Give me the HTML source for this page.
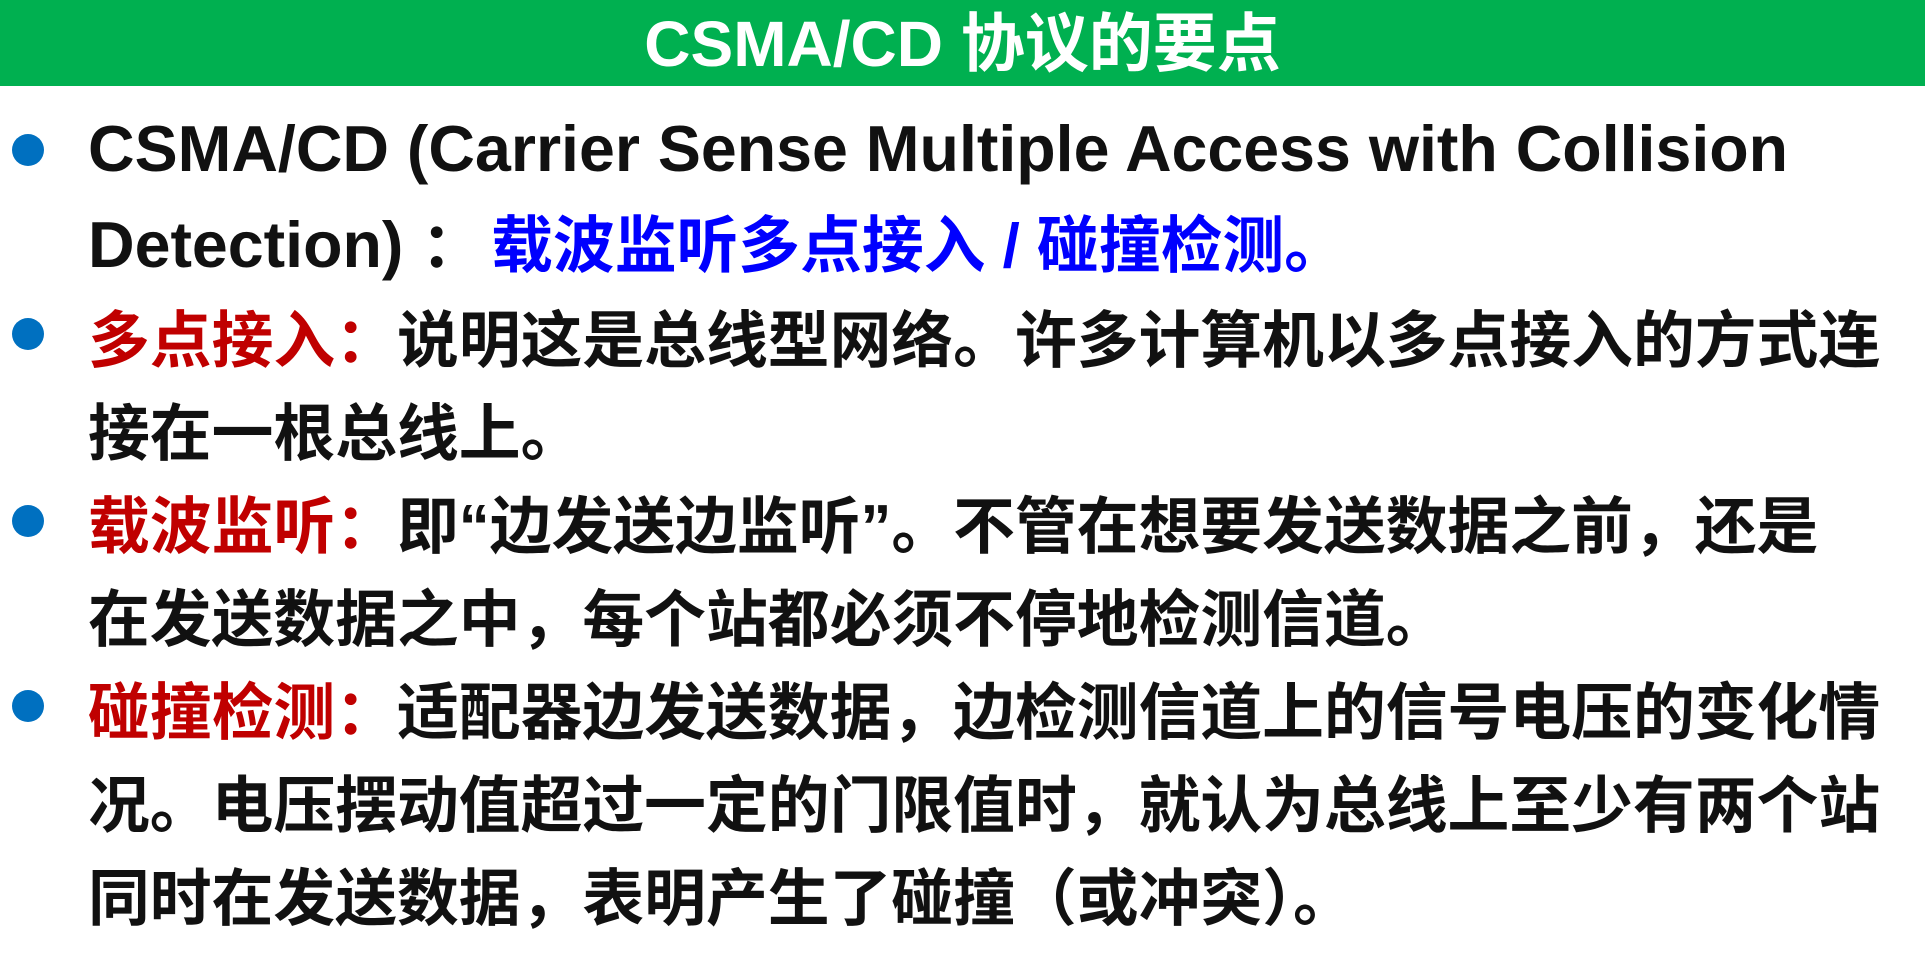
<!DOCTYPE html>
<html><head><meta charset="utf-8"><style>
html,body{margin:0;padding:0;width:1925px;height:956px;background:#fff;overflow:hidden}
.bar{position:absolute;left:0;top:0;width:1925px;height:86px;background:#00B050;color:#fff;font:bold 64px "Liberation Sans","Noto Sans CJK SC",sans-serif;text-align:center;line-height:88px}
.l{position:absolute;left:88px;height:93px;line-height:93px;white-space:nowrap;font:bold 61.8px "Liberation Sans","Noto Sans CJK SC",sans-serif;color:#111}
.lat{font-size:64.5px}
.b{position:absolute;left:12px;width:32px;height:32px;border-radius:50%;background:#0070C0}
.r{color:#C00000}.bl{color:#0000FF}
</style></head><body>
<div class="bar">CSMA/CD 协议的要点</div>
<div class="b" style="top:134px"></div>
<div class="b" style="top:318px"></div>
<div class="b" style="top:505px"></div>
<div class="b" style="top:690px"></div>
<div class="l lat" style="top:112px">CSMA/CD (Carrier Sense Multiple Access with Collision</div>
<div class="l" style="top:195px"><span class="lat">Detection) </span>：<span class="bl" style="margin-left:8px">载波监听多点接入 / 碰撞检测。</span></div>
<div class="l" style="top:290px"><span class="r">多点接入：</span>说明这是总线型网络。许多计算机以多点接入的方式连</div>
<div class="l" style="top:383px">接在一根总线上。</div>
<div class="l" style="top:476px"><span class="r">载波监听：</span>即“边发送边监听”。不管在想要发送数据之前，还是</div>
<div class="l" style="top:569px">在发送数据之中，每个站都必须不停地检测信道。</div>
<div class="l" style="top:662px"><span class="r">碰撞检测：</span>适配器边发送数据，边检测信道上的信号电压的变化情</div>
<div class="l" style="top:755px">况。电压摆动值超过一定的门限值时，就认为总线上至少有两个站</div>
<div class="l" style="top:848px">同时在发送数据，表明产生了碰撞（或冲突）。</div>
</body></html>
